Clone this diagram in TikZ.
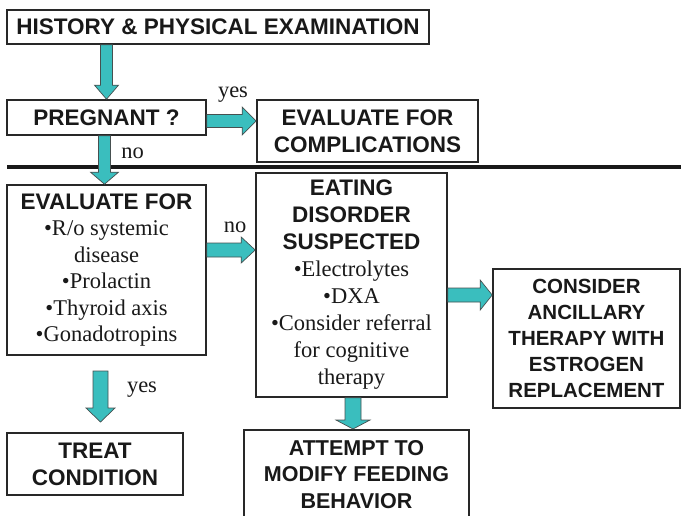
\documentclass[tikz,border=0pt]{standalone}
\usepackage{fontspec}
\setmainfont{Liberation Serif}
\newfontfamily\sansface{Liberation Sans}
\usetikzlibrary{calc}

\definecolor{arrowfill}{RGB}{58,190,190}
\definecolor{arrowedge}{RGB}{70,80,80}
\definecolor{boxedge}{RGB}{40,40,40}
\definecolor{ink}{RGB}{25,25,25}

% heading and body text inside the boxes
\newcommand\hd[1]{{\sansface\bfseries #1}}
\newcommand\bd[1]{{\rmfamily #1}}

% block arrows: start, end, shaft half width, head half width, head length
\newcommand\arrdown[5]{\path[blockarrow] let \p1=(#1), \p2=(#2) in
  (\x1-#3pt,\y1) -- (\x1+#3pt,\y1) -- (\x1+#3pt,\y2+#5pt) -- (\x1+#4pt,\y2+#5pt)
  -- (\x1,\y2) -- (\x1-#4pt,\y2+#5pt) -- (\x1-#3pt,\y2+#5pt) -- cycle;}
\newcommand\arrright[5]{\path[blockarrow] let \p1=(#1), \p2=(#2) in
  (\x1,\y1-#3pt) -- (\x2-#5pt,\y1-#3pt) -- (\x2-#5pt,\y1-#4pt) -- (\x2,\y1)
  -- (\x2-#5pt,\y1+#4pt) -- (\x2-#5pt,\y1+#3pt) -- (\x1,\y1+#3pt) -- cycle;}

\tikzset{
  box/.style={draw=boxedge, line width=1.6pt, fill=white, inner sep=0pt,
    align=center, text=ink, font=\fontsize{22.5}{27}\selectfont},
  blockarrow/.style={fill=arrowfill, draw=arrowedge, line width=0.7pt, line join=miter},
  lbl/.style={text=ink, font=\fontsize{22.5}{27}\selectfont, inner sep=0pt, anchor=base}
}

\begin{document}
\begin{tikzpicture}[x=1pt,y=-1pt]
\useasboundingbox (0,0) rectangle (681,515);

% boxes
\node[box, minimum width=422pt, minimum height=34pt] (hist) at (218,27)
  {\hd{HISTORY \& PHYSICAL EXAMINATION}};
\node[box, minimum width=199pt, minimum height=35pt] (preg) at (106.5,117.5)
  {\hd{PREGNANT ?}};
\node[box, minimum width=221pt, minimum height=62pt] (compl) at (367.5,131)
  {\hd{EVALUATE FOR}\\\hd{COMPLICATIONS}};
\node[box, minimum width=199pt, minimum height=170pt,
      font=\fontsize{22.5}{26.4}\selectfont] (evalf) at (106.5,270)
  {\hd{EVALUATE FOR}\\\bd{•R/o systemic}\\\bd{disease}\\\bd{•Prolactin}\\
   \bd{•Thyroid axis}\\\bd{•Gonadotropins}};
\node[box, minimum width=191pt, minimum height=224pt] (eat) at (351.5,285)
  {\hd{EATING}\\\hd{DISORDER}\\\hd{SUSPECTED}\\\bd{•Electrolytes}\\\bd{•DXA}\\
   \bd{•Consider referral}\\\bd{for cognitive}\\\bd{therapy}};
\node[box, minimum width=187pt, minimum height=139pt,
      font=\fontsize{20.5}{25.8}\selectfont] (cons) at (586.5,338.5)
  {\hd{CONSIDER}\\\hd{ANCILLARY}\\\hd{THERAPY WITH}\\\hd{ESTROGEN}\\\hd{REPLACEMENT}};
\node[box, minimum width=176pt, minimum height=62pt] (treat) at (95,464)
  {\hd{TREAT}\\\hd{CONDITION}};
\node[box, minimum width=225pt, minimum height=94pt, anchor=north,
      font=\fontsize{21.5}{26.5}\selectfont] (att) at (356.5,429)
  {\\[-16pt]\hd{ATTEMPT TO}\\\hd{MODIFY FEEDING}\\\hd{BEHAVIOR}};

% divider
\coordinate (divL) at (7,167);
\coordinate (divR) at (681,167);
\draw[line width=3.5pt, draw=ink] (divL) -- (divR);

% connectors
\arrdown{preg.north |- hist.south}{preg.north}{6}{12}{14}
\arrdown{[xshift=-2pt]preg.south}{[xshift=-2pt]evalf.north}{6}{14}{12}
\arrright{[yshift=-3.5pt]preg.east}{[yshift=-3.5pt]preg.east -| compl.west}{6.5}{14}{14}
\arrright{[yshift=20pt]evalf.east}{[yshift=20pt]evalf.east -| eat.west}{7}{13}{14}
\arrright{[yshift=-10pt]eat.east}{[yshift=-10pt]eat.east -| cons.west}{7}{15}{12}
\coordinate (ys) at (100.5,371);
\coordinate (ye) at (100.5,422);
\arrdown{ys}{ye}{7.5}{14.5}{14}
\arrdown{[xshift=1.5pt]eat.south}{[xshift=1.5pt]eat.south |- att.north}{8}{17}{9}

% branch labels
\node[lbl] (yes1) at (233,97) {yes};
\node[lbl] (no1) at (132.5,158) {no};
\node[lbl] (no2) at (235,232) {no};
\node[lbl] (yes2) at (142,392) {yes};
\end{tikzpicture}
\end{document}
